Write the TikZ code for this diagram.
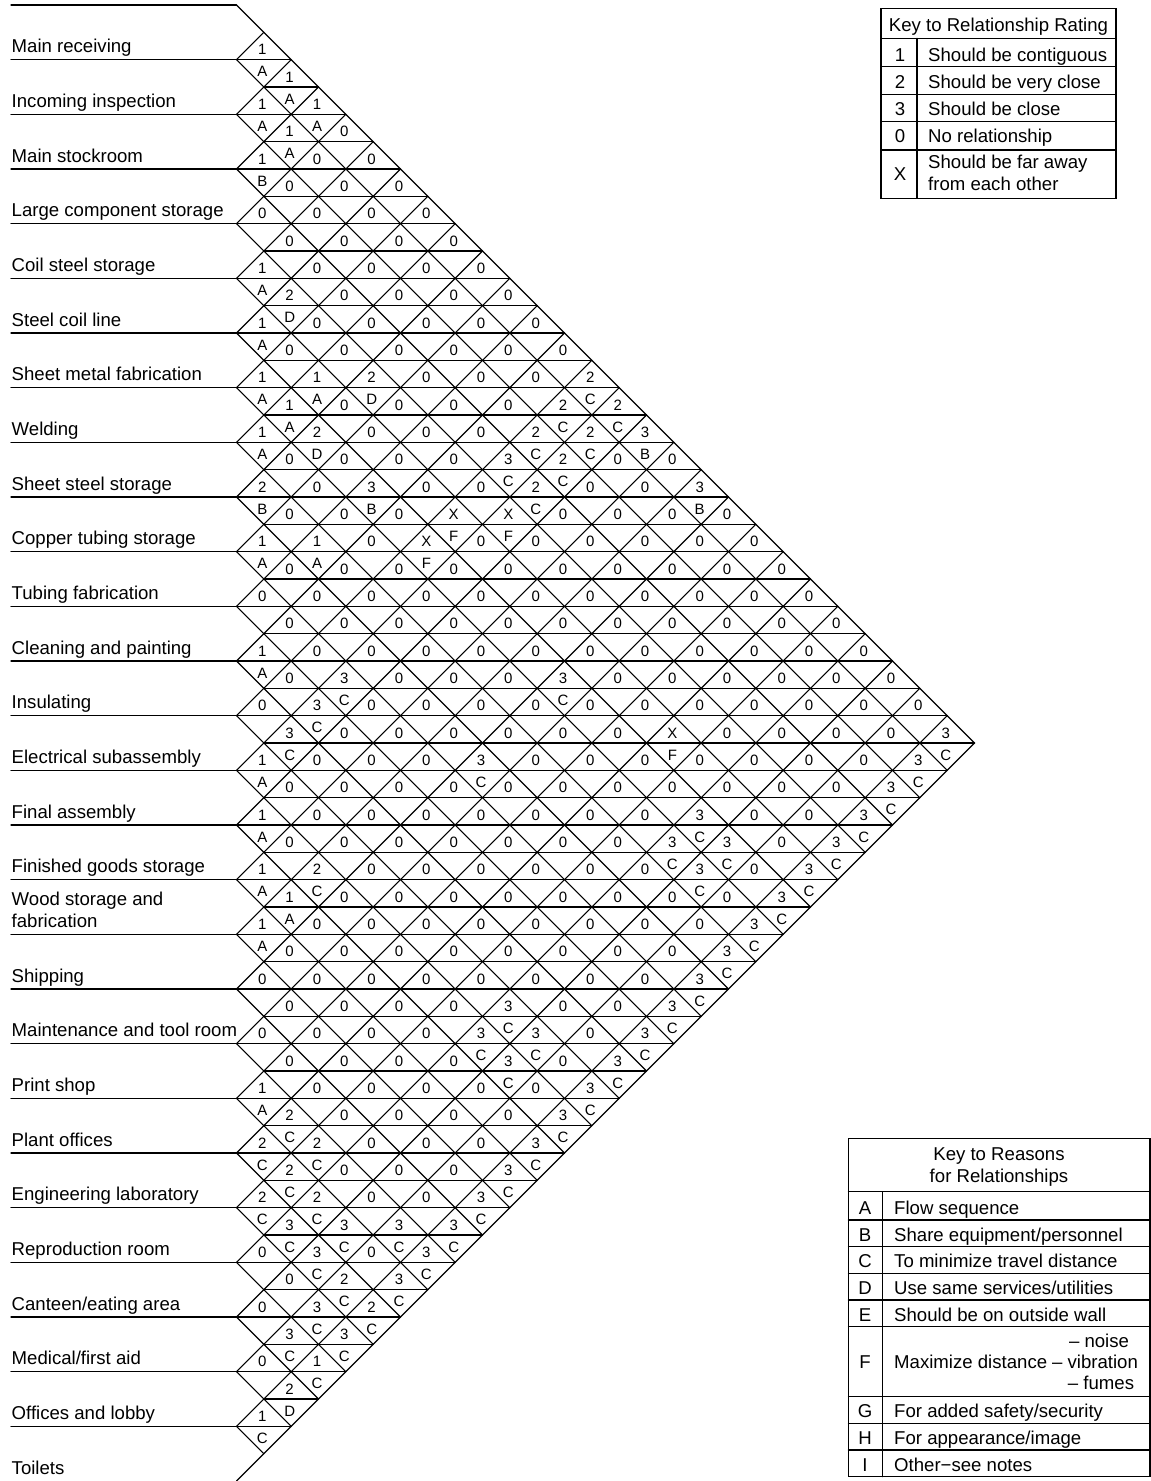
\documentclass[tikz,border=0pt]{standalone}
\usepackage{fontspec}
\setmainfont{Liberation Sans}

% \setrel{i}{j}{rating}{reason}: every pair not listed is rated 0 with no reason
\newcommand\setrel[4]{%
  \expandafter\def\csname relR#1-#2\endcsname{#3}%
  \expandafter\def\csname relS#1-#2\endcsname{#4}}
\setrel{1}{2}{1}{A}\setrel{1}{3}{1}{A}\setrel{1}{4}{1}{A}\setrel{1}{14}{2}{C}
\setrel{1}{15}{2}{C}\setrel{1}{16}{3}{B}\setrel{1}{18}{3}{B}\setrel{1}{27}{3}{C}
\setrel{2}{3}{1}{A}\setrel{2}{4}{1}{A}\setrel{2}{14}{2}{C}\setrel{2}{15}{2}{C}\setrel{2}{27}{3}{C}
\setrel{3}{4}{1}{B}\setrel{3}{14}{2}{C}\setrel{3}{15}{2}{C}\setrel{3}{27}{3}{C}
\setrel{4}{14}{3}{C}\setrel{4}{15}{2}{C}\setrel{4}{27}{3}{C}
\setrel{5}{6}{1}{A}\setrel{5}{7}{2}{D}\setrel{5}{10}{2}{D}\setrel{5}{15}{X}{F}\setrel{5}{27}{3}{C}
\setrel{6}{7}{1}{A}\setrel{6}{9}{1}{A}\setrel{6}{14}{X}{F}\setrel{6}{22}{X}{F}\setrel{6}{27}{3}{C}
\setrel{7}{8}{1}{A}\setrel{7}{9}{1}{A}\setrel{7}{10}{2}{D}\setrel{7}{12}{3}{B}\setrel{7}{14}{X}{F}
\setrel{7}{19}{3}{C}\setrel{7}{24}{3}{C}\setrel{7}{25}{3}{C}\setrel{7}{27}{3}{C}
\setrel{8}{9}{1}{A}\setrel{8}{24}{3}{C}\setrel{8}{25}{3}{C}\setrel{8}{27}{3}{C}
\setrel{9}{10}{2}{B}\setrel{9}{12}{1}{A}\setrel{9}{27}{3}{C}
\setrel{10}{11}{1}{A}\setrel{10}{19}{3}{C}\setrel{10}{27}{3}{C}
\setrel{11}{15}{3}{C}\setrel{11}{27}{3}{C}
\setrel{12}{13}{1}{A}\setrel{12}{15}{3}{C}\setrel{12}{27}{3}{C}
\setrel{13}{15}{3}{C}\setrel{13}{27}{3}{C}
\setrel{14}{15}{1}{A}\setrel{14}{24}{3}{C}\setrel{14}{25}{3}{C}\setrel{14}{27}{3}{C}
\setrel{15}{16}{1}{A}\setrel{15}{18}{2}{C}\setrel{15}{24}{3}{C}\setrel{15}{25}{3}{C}\setrel{15}{27}{3}{C}
\setrel{16}{17}{1}{A}\setrel{16}{18}{1}{A}\setrel{16}{27}{3}{C}
\setrel{17}{18}{1}{A}\setrel{17}{27}{3}{C}
\setrel{18}{27}{3}{C}
\setrel{19}{27}{3}{C}
\setrel{20}{21}{1}{A}\setrel{20}{22}{2}{C}\setrel{20}{23}{2}{C}\setrel{20}{26}{3}{C}\setrel{20}{27}{3}{C}
\setrel{21}{22}{2}{C}\setrel{21}{23}{2}{C}\setrel{21}{24}{2}{C}\setrel{21}{25}{3}{C}\setrel{21}{27}{3}{C}
\setrel{22}{23}{2}{C}\setrel{22}{24}{3}{C}\setrel{22}{25}{3}{C}\setrel{22}{26}{2}{C}\setrel{22}{27}{2}{C}
\setrel{23}{26}{3}{C}\setrel{23}{27}{3}{C}
\setrel{24}{26}{3}{C}\setrel{24}{27}{1}{C}
\setrel{25}{27}{2}{D}
\setrel{26}{27}{1}{C}

\begin{document}
\begin{tikzpicture}[x=1pt,y=-1pt,
  grid/.style={line width=1.1pt,line cap=round},
  deptlabel/.style={anchor=base west,inner sep=0pt,font=\fontsize{18.6}{21.5}\selectfont},
  rate/.style={anchor=base,inner sep=0pt,font=\fontsize{15}{15}\selectfont},
  keytext/.style={anchor=base west,inner sep=0pt,font=\fontsize{18.6}{21.5}\selectfont},
  keychar/.style={anchor=base,inner sep=0pt,font=\fontsize{18.6}{21.5}\selectfont}]
\useasboundingbox (0,0) rectangle (1151,1481);
\def\xo{236.5}\def\yo{5}\def\rowh{54.6667}\def\hh{27.3333}\def\yb{1481}

% ---------- department labels and their rules ----------
\foreach \k in {0,...,26}
  \draw[grid] (11,{\yo+\k*\rowh}) -- (\xo,{\yo+\k*\rowh});
\newcommand\deptrow[2]{\node[deptlabel] (dept#1) at (11.5,{\yo+#1*\rowh-7}) {#2};}
\deptrow{1}{Main receiving}
\deptrow{2}{Incoming inspection}
\deptrow{3}{Main stockroom}
\deptrow{4}{Large component storage}
\deptrow{5}{Coil steel storage}
\deptrow{6}{Steel coil line}
\deptrow{7}{Sheet metal fabrication}
\deptrow{8}{Welding}
\deptrow{9}{Sheet steel storage}
\deptrow{10}{Copper tubing storage}
\deptrow{11}{Tubing fabrication}
\deptrow{12}{Cleaning and painting}
\deptrow{13}{Insulating}
\deptrow{14}{Electrical subassembly}
\deptrow{15}{Final assembly}
\deptrow{16}{Finished goods storage}
\deptrow{17}{\begin{tabular}[b]{@{}l@{}}Wood storage and\\fabrication\end{tabular}}
\deptrow{18}{Shipping}
\deptrow{19}{Maintenance and tool room}
\deptrow{20}{Print shop}
\deptrow{21}{Plant offices}
\deptrow{22}{Engineering laboratory}
\deptrow{23}{Reproduction room}
\deptrow{24}{Canteen/eating area}
\deptrow{25}{Medical/first aid}
\deptrow{26}{Offices and lobby}
\deptrow{27}{Toilets}

% ---------- diamond grid ----------
\coordinate (apex) at ({\xo+27*\hh},{\yo+27*\hh});
\draw[grid] (\xo,\yo) -- (apex) -- (\xo,\yb);
\foreach \k in {1,...,26}{
  \pgfmathsetmacro\yk{\yo+\k*\rowh}
  \draw[grid] (\xo,\yk) -- ++({(\yk-\yo)/2},{-(\yk-\yo)/2});
  \draw[grid] (\xo,\yk) -- ++({(\yb-\yk)/2},{(\yb-\yk)/2});
}
\foreach \m in {2,...,52}{
  \pgfmathsetmacro\ym{\yo+\m*\hh}
  \pgfmathsetmacro\xs{mod(\m,2)==1 ? \xo+\hh : \xo}
  \pgfmathsetmacro\xe{\xo+min(\m,54-\m)*\hh}
  \draw[grid] (\xs,\ym) -- (\xe,\ym);
}

% ---------- ratings (upper half) and reasons (lower half) ----------
\foreach \i in {1,...,26}{
  \pgfmathtruncatemacro\jfirst{\i+1}
  \foreach \j in {\jfirst,...,27}{
    \pgfmathsetmacro\cx{\xo+(\j-\i)*\hh-1.5}
    \pgfmathsetmacro\cy{\yo+(\i+\j-1)*\hh}
    \ifcsname relR\i-\j\endcsname
      \node[rate] (r-\i-\j) at (\cx,\cy-5) {\csname relR\i-\j\endcsname};
      \node[rate] (s-\i-\j) at (\cx,\cy+17) {\csname relS\i-\j\endcsname};
    \else
      \node[rate] (r-\i-\j) at (\cx,\cy-5) {0};
    \fi
  }
}

% ---------- key to relationship rating ----------
\draw[grid] (881,8.3) rectangle (1116,198.3);
\foreach \yy in {38.3,66.7,94.3,121.7,150}
  \draw[grid] (881,\yy) -- (1116,\yy);
\draw[grid] (917,38.3) -- (917,198.3);
\node[keychar] (ktitle) at (998.5,31) {Key to Relationship Rating};
\node[keychar] (k1) at (900,61) {1};
\node[keytext] (k1t) at (928,61) {Should be contiguous};
\node[keychar] (k2) at (900,88.3) {2};
\node[keytext] (k2t) at (928,88.3) {Should be very close};
\node[keychar] (k3) at (900,115.5) {3};
\node[keytext] (k3t) at (928,115.5) {Should be close};
\node[keychar] (k0) at (900,142.5) {0};
\node[keytext] (k0t) at (928,142.5) {No relationship};
\node[keychar] (kx) at (900,180.6) {X};
\node[keytext] (kxa) at (928,168) {Should be far away};
\node[keytext] (kxb) at (928,190) {from each other};

% ---------- key to reasons ----------
\draw[grid] (848.3,1138.3) rectangle (1150,1476.7);
\foreach \yy in {1191.7,1220,1246.7,1273.3,1300,1326.7,1396.7,1423.3,1450}
  \draw[grid] (848.3,\yy) -- (1150,\yy);
\draw[grid] (882.3,1191.7) -- (882.3,1476.7);
\node[keychar] (rtitlea) at (999,1160) {Key to Reasons};
\node[keychar] (rtitleb) at (999,1182) {for Relationships};
\node[keychar] (ra) at (865,1214.5) {A};
\node[keytext] (rat) at (894,1214.5) {Flow sequence};
\node[keychar] (rb) at (865,1241.2) {B};
\node[keytext] (rbt) at (894,1241.2) {Share equipment/personnel};
\node[keychar] (rc) at (865,1267.8) {C};
\node[keytext] (rct) at (894,1267.8) {To minimize travel distance};
\node[keychar] (rd) at (865,1294.5) {D};
\node[keytext] (rdt) at (894,1294.5) {Use same services/utilities};
\node[keychar] (re) at (865,1321.2) {E};
\node[keytext] (ret) at (894,1321.2) {Should be on outside wall};
\node[keychar] (rf) at (865,1368) {F};
\node[keytext] (rft) at (894,1368) {Maximize distance};
\node[keychar] (rfa) at (1099,1347) {-- noise};
\node[keychar] (rfb) at (1095,1368) {-- vibration};
\node[keychar] (rfc) at (1101,1389) {-- fumes};
\node[keychar] (rg) at (865,1417.8) {G};
\node[keytext] (rgt) at (894,1417.8) {For added safety/security};
\node[keychar] (rh) at (865,1444.5) {H};
\node[keytext] (rht) at (894,1444.5) {For appearance/image};
\node[keychar] (ri) at (865,1471.2) {I};
\node[keytext] (rit) at (894,1471.2) {Other−see notes};
\end{tikzpicture}
\end{document}
